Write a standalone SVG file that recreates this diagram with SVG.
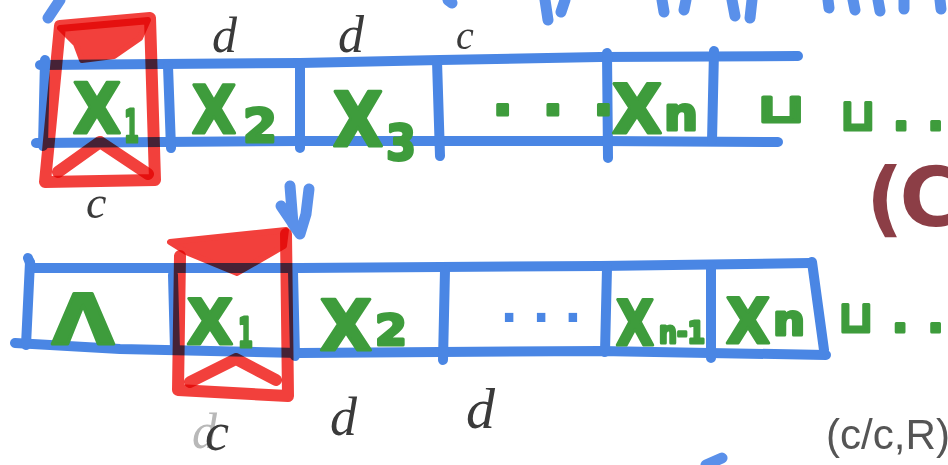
<svg xmlns="http://www.w3.org/2000/svg" width="948" height="465" viewBox="0 0 948 465">
<style>
.tape{fill:none;stroke:#4a86e4;stroke-width:10;stroke-linecap:round;stroke-linejoin:round}
.scrib{fill:none;stroke:#5a90ea;stroke-width:11;stroke-linecap:round}
.head{fill:none;stroke:#f2403c;stroke-width:12;stroke-linecap:round;stroke-linejoin:round;mix-blend-mode:multiply}
.headfill{fill:#f2403c;stroke:#f2403c;stroke-width:6;stroke-linejoin:round;mix-blend-mode:multiply}
.sym{font-family:"DejaVu Sans",sans-serif;font-weight:bold;fill:#3e9c3c;stroke:#3e9c3c;stroke-width:3;stroke-linejoin:round}
.dots{font-family:"DejaVu Sans",sans-serif;font-weight:bold;fill:#4a86e4}
.pen{font-family:"Liberation Serif",serif;font-style:italic;fill:#3a3a3a}
.pen2{font-family:"Liberation Sans",sans-serif;fill:#555}
.brown{font-family:"DejaVu Sans",sans-serif;font-weight:bold;fill:#8c3e46}
</style>
<rect width="948" height="465" fill="#ffffff"/>
<g id="top-scribbles">
<path class="scrib" d="M60,0 L48,18 M448,0 L452,3 M545,0 L548,20 M565,0 L561,12 M662,0 L664,12 M686,0 L684,10 M732,0 L735,16 M752,0 L750,18 M828,0 L829,8 M853,0 L855,10 M878,0 L880,11 M904,0 L904,9 M940,0 L941,9"/>
</g>
<g id="tape-top">
<path class="tape" d="M40,65 L160,64 L300,63 L440,60 L600,57 L798,56"/>
<path class="tape" d="M36,143 L300,141 L600,141 L778,142"/>
<path class="tape" d="M45,60 L43,146 M168,66 L171,148 M300,64 L300,148 M437,61 L440,156 M607,53 L608,158 M714,51 L712,141"/>
</g>
<g id="symbols-top">
<text class="sym" x="73" y="133" font-size="70" textLength="48" lengthAdjust="spacingAndGlyphs">X</text>
<text class="sym" x="124" y="142" font-size="44" textLength="15" lengthAdjust="spacingAndGlyphs">1</text>
<text class="sym" x="192" y="133" font-size="66" textLength="44" lengthAdjust="spacingAndGlyphs">X</text>
<text class="sym" x="243" y="142" font-size="46" textLength="34" lengthAdjust="spacingAndGlyphs">2</text>
<text class="sym" x="333" y="146" font-size="74" textLength="50" lengthAdjust="spacingAndGlyphs">X</text>
<text class="sym" x="386" y="160" font-size="50" textLength="30" lengthAdjust="spacingAndGlyphs">3</text>
<text class="sym" x="492" y="115" font-size="56" textLength="122" lengthAdjust="spacing">...</text>
<text class="sym" x="612" y="133" font-size="68" textLength="50" lengthAdjust="spacingAndGlyphs">X</text>
<text class="sym" x="664" y="130" font-size="46" textLength="34" lengthAdjust="spacingAndGlyphs">n</text>
<text class="sym" x="757" y="122" font-size="40" textLength="48" lengthAdjust="spacingAndGlyphs">⊔</text>
<text class="sym" x="840" y="130" font-size="44" textLength="104" lengthAdjust="spacing">⊔..</text>
</g>
<g id="head-top">
<path class="head" d="M60,26 L150,18 L155,180 L45,182 Z"/>
<path class="headfill" d="M60,28 L148,20 L140,38 L114,56 L82,60 L76,44 Z"/>
<path class="head" stroke-width="10" d="M58,172 L100,142 L148,174"/>
</g>
<g id="labels-top">
<text class="pen" x="212" y="52" font-size="50">d</text>
<text class="pen" x="338" y="52" font-size="52">d</text>
<text class="pen" x="456" y="49" font-size="40">c</text>
<text class="pen" x="86" y="218" font-size="46">c</text>
</g>
<g id="brown-label">
<text class="brown" x="866" y="226" font-size="82" letter-spacing="-4">(C/</text>
</g>
<g id="arrow">
<path class="scrib" stroke="#4a86e4" d="M290,186 L293,224 L300,234 M309,189 L306,214 L300,234 M281,206 L300,234"/>
</g>
<g id="tape-bottom">
<path class="tape" d="M28,258 L32,268 L300,268 L600,266 L810,263"/>
<path class="tape" d="M15,343 L120,349 L300,353 L600,351 L826,355"/>
<path class="tape" d="M30,262 L26,345 M173,275 L175,350 M293,272 L295,356 M445,270 L443,360 M607,268 L605,352 M711,266 L711,358 M812,262 L824,350"/>
</g>
<g id="symbols-bottom">
<text class="sym" x="52" y="344" font-size="70" textLength="62" lengthAdjust="spacingAndGlyphs">Λ</text>
<text class="sym" x="187" y="344" font-size="62" textLength="46" lengthAdjust="spacingAndGlyphs">X</text>
<text class="sym" x="238" y="347" font-size="40" textLength="15" lengthAdjust="spacingAndGlyphs">1</text>
<text class="sym" x="320" y="350" font-size="70" textLength="52" lengthAdjust="spacingAndGlyphs">X</text>
<text class="sym" x="375" y="345" font-size="42" textLength="32" lengthAdjust="spacingAndGlyphs">2</text>
<text class="dots" x="500" y="322" font-size="48" textLength="82" lengthAdjust="spacing">...</text>
<text class="sym" x="616" y="345" font-size="62" textLength="38" lengthAdjust="spacingAndGlyphs">X</text>
<text class="sym" x="659" y="343" font-size="30" textLength="46" lengthAdjust="spacingAndGlyphs">n-1</text>
<text class="sym" x="726" y="343" font-size="62" textLength="44" lengthAdjust="spacingAndGlyphs">X</text>
<text class="sym" x="773" y="335" font-size="42" textLength="32" lengthAdjust="spacingAndGlyphs">n</text>
<text class="sym" x="838" y="332" font-size="44" textLength="106" lengthAdjust="spacing">⊔..</text>
</g>
<g id="head-bottom">
<path class="head" d="M180,256 L178,390 L288,396 L286,234"/>
<path class="headfill" d="M170,242 L286,230 L284,246 L237,273 L186,252 Z"/>
<path class="head" stroke-width="10" d="M190,382 L236,359 L276,380"/>
</g>
<g id="labels-bottom">
<text class="pen" x="192" y="448" font-size="50" style="fill:#b8b8b8">d</text>
<text class="pen" x="205" y="450" font-size="54">c</text>
<text class="pen" x="330" y="435" font-size="54">d</text>
<text class="pen" x="466" y="428" font-size="58">d</text>
<text class="pen2" x="826" y="449" font-size="42" textLength="124" lengthAdjust="spacingAndGlyphs">(c/c,R)</text>
</g>
<g id="bottom-scribble">
<path class="scrib" d="M706,465 L722,458"/>
</g>
</svg>
